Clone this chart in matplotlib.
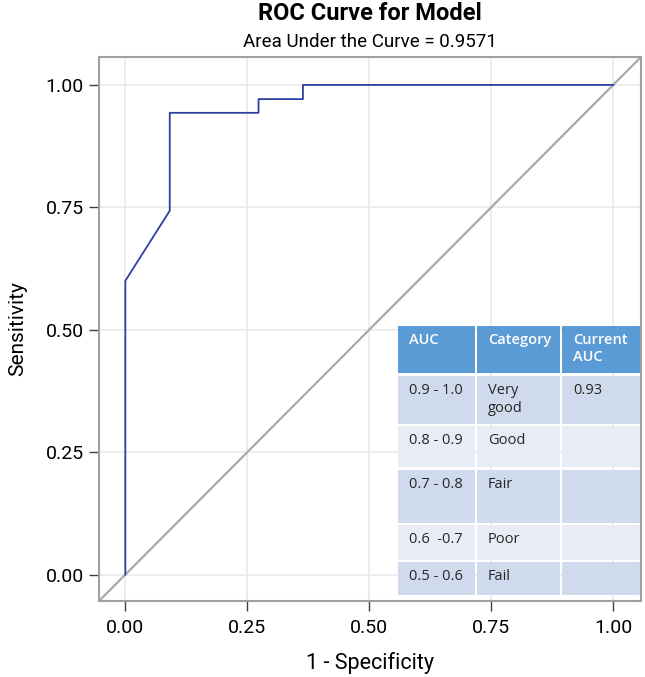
import matplotlib
matplotlib.use("Agg")
import matplotlib.pyplot as plt
from matplotlib.patches import Rectangle

plt.rcParams["font.family"] = ["Roboto", "DejaVu Sans"]

# ROC curve points
fpr = [0.0, 0.0, 0.091, 0.091, 0.273, 0.273, 0.364, 0.364, 1.0]
tpr = [0.0, 0.600, 0.743, 0.943, 0.943, 0.971, 0.971, 1.0, 1.0]
ticks = [0.0, 0.25, 0.5, 0.75, 1.0]
tick_labels = ["0.00", "0.25", "0.50", "0.75", "1.00"]

title = "ROC Curve for Model"
subtitle = "Area Under the Curve = 0.9571"

# AUC lookup table
tbl_header = ["AUC", "Category", "Current\nAUC"]
tbl_auc = ["0.9 - 1.0", "0.8 - 0.9", "0.7 - 0.8", "0.6  -0.7", "0.5 - 0.6"]
tbl_cat = ["Very\ngood", "Good", "Fair", "Poor", "Fail"]
tbl_cur = ["0.93", "", "", "", ""]

W, H = 645, 677
fig = plt.figure(figsize=(W / 100, H / 100), dpi=100)
fig.patch.set_facecolor("white")
ax = fig.add_axes([99 / W, 1 - 601 / H, 542 / W, 544 / H])

lo, hi = -0.054, 1.057
ax.set_xlim(lo, hi)
ax.set_ylim(lo, hi)

ax.grid(True, color="#E8E8E8", linewidth=1.1, zorder=0)
ax.set_axisbelow(True)
ax.plot([lo, hi], [lo, hi], color="#A9A9A9", linewidth=1.6, zorder=2)
ax.plot(fpr, tpr, color="#2E3F9E", linewidth=1.3, zorder=3)

ax.set_xticks(ticks)
ax.set_yticks(ticks)
ax.set_xticklabels(tick_labels)
ax.set_yticklabels(tick_labels)
ax.tick_params(colors="#404040", labelcolor="black", labelsize=14,
               length=7, width=1)
ax.tick_params(axis="y", pad=4)
ax.tick_params(axis="x", pad=6)
for spine in ax.spines.values():
    spine.set_edgecolor("#A0A0A0")
    spine.set_linewidth(1.5)

ax.set_xlabel("1 - Specificity", fontsize=15.5, labelpad=11)
ax.set_ylabel("Sensitivity", fontsize=15, labelpad=13)

fig.text(370 / W, 1 - 14 / H, title, ha="center", va="center",
         fontsize=17, fontweight="bold")
fig.text(370 / W, 1 - 42 / H, subtitle, ha="center", va="center",
         fontsize=13.5)

# table drawn in figure pixel coordinates
col_edges = [(398, 475), (477, 560), (562, 640)]
row_edges = [(326, 373), (376, 424), (426, 467), (470, 523),
             (525, 560), (562, 595)]
row_colors = ["#5B9BD5", "#CFDAEC", "#E8ECF5", "#CFDAEC", "#E8ECF5", "#CFDAEC"]
rows = [tbl_header] + [list(r) for r in zip(tbl_auc, tbl_cat, tbl_cur)]

for ri, (y0, y1) in enumerate(row_edges):
    for ci, (x0, x1) in enumerate(col_edges):
        fig.patches.append(Rectangle((x0 / W, 1 - y1 / H), (x1 - x0) / W,
                                     (y1 - y0) / H, transform=fig.transFigure,
                                     facecolor=row_colors[ri],
                                     edgecolor="none", zorder=5))
        txt = rows[ri][ci]
        if txt:
            fig.text((x0 + 11) / W, 1 - (y0 + 7) / H, txt, ha="left",
                     va="top", fontsize=10.5, family=["Open Sans", "DejaVu Sans"],
                     linespacing=1.3,
                     color="white" if ri == 0 else "#262626",
                     fontweight="semibold" if ri == 0 else "normal", zorder=6)

fig.savefig("out.png", dpi=100, facecolor="white")
